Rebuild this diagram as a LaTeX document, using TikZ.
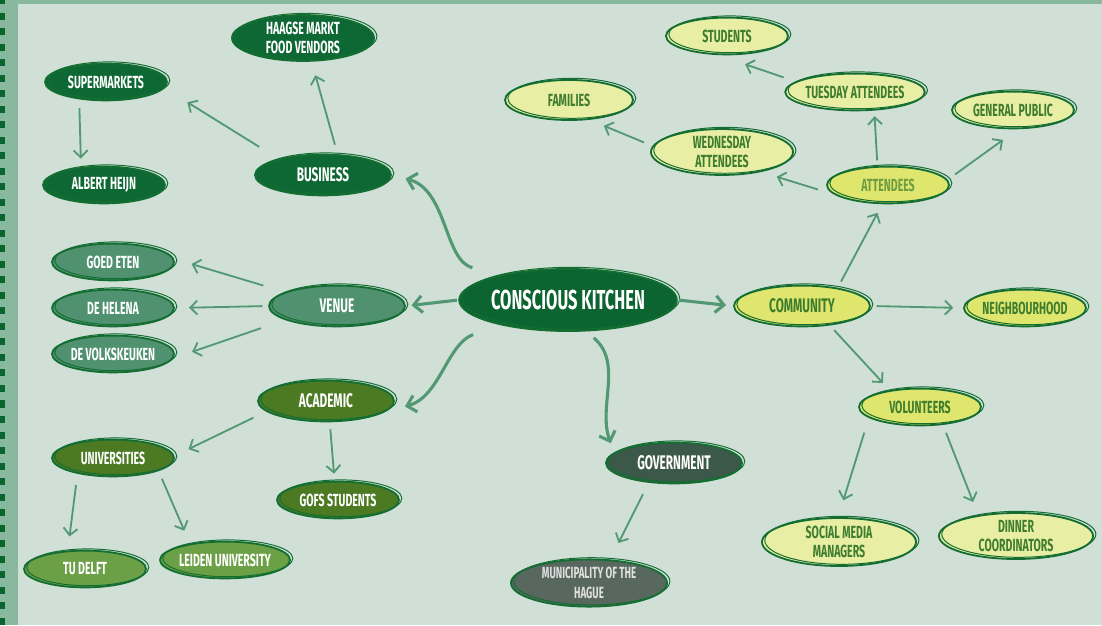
\documentclass[tikz,border=0pt]{standalone}
\usepackage{fontspec}
\usepackage{tikz}
\usetikzlibrary{shapes.geometric,arrows.meta}
\setmainfont{Fira Sans}[FakeStretch=0.6]
\newcommand{\leaffont}{\bfseries\fontsize{12.5}{14}\selectfont}
\newcommand{\branchfont}{\bfseries\fontsize{14}{16}\selectfont}
\newcommand{\rootfont}{\bfseries\fontsize{19.5}{21}\selectfont}

\definecolor{paper}{RGB}{208,224,215}
\definecolor{framegreen}{RGB}{136,184,158}
\definecolor{framedot}{RGB}{10,100,45}
\definecolor{ring}{RGB}{20,110,50}
\definecolor{linkgreen}{RGB}{82,152,115}
\definecolor{ckgreen}{RGB}{12,100,48}
\definecolor{bizgreen}{RGB}{14,104,52}
\definecolor{venuegreen}{RGB}{80,145,112}
\definecolor{acadgreen}{RGB}{75,122,35}
\definecolor{unilight}{RGB}{108,160,70}
\definecolor{govgrey}{RGB}{60,88,72}
\definecolor{munigrey}{RGB}{88,104,95}
\definecolor{commyellow}{RGB}{222,230,110}
\definecolor{paleyellow}{RGB}{233,238,165}
\definecolor{inkgreen}{RGB}{62,125,45}

\tikzset{
    bubble/.style={ellipse, draw=ring, line width=1.3pt, inner sep=0pt, align=center,
        text=white, font=\leaffont,
        postaction={draw=ring, line width=0.7pt, transform canvas={xshift=2pt,yshift=1.2pt}}},
    leaf/.style={bubble, minimum width=3.05cm, minimum height=0.92cm},
    branch/.style={bubble, minimum width=3.4cm, minimum height=1.02cm, font=\branchfont},
    pale/.style={text=inkgreen},
    link/.style={-{Straight Barb[length=5pt,width=10pt]}, draw=linkgreen, line width=1.3pt,
        shorten <=4pt, shorten >=4pt},
    mainlink/.style={link, -{Straight Barb[length=6pt,width=12pt]}, line width=2.2pt}
}

\begin{document}
\begin{tikzpicture}[x=0.025cm, y=0.025cm]
            \useasboundingbox (0,0) rectangle (1102,625);
            \fill[paper] (0,0) rectangle (1102,625);
            \fill[framegreen] (0,0) rectangle (17.5,625);
            \fill[framegreen] (0,621) rectangle (1102,625);
            \foreach \k in {0,...,40}
                \fill[framedot] (0,{627.5-15.5*\k}) rectangle (5,{620.5-15.5*\k});

            \node[bubble, fill=ckgreen, font=\rootfont, minimum width=5.3cm, minimum height=1.55cm] (CK) at (568,325) {CONSCIOUS KITCHEN};

            \node[branch, fill=bizgreen] (Business) at (323,450) {BUSINESS};
            \node[leaf, fill=bizgreen, minimum width=3.55cm, minimum height=1.08cm] (Business_Haagse) at (303,587) {HAAGSE MARKT\\FOOD VENDORS};
            \node[leaf, fill=bizgreen] (Business_Super) at (106,543) {SUPERMARKETS};
            \node[leaf, fill=bizgreen] (Super_AH) at (104,440) {ALBERT HEIJN};

            \node[branch, fill=venuegreen] (Venue) at (337,319) {VENUE};
            \node[leaf, fill=venuegreen] (Venue_Goed) at (113,363) {GOED ETEN};
            \node[leaf, fill=venuegreen] (Venue_Helena) at (113,317) {DE HELENA};
            \node[leaf, fill=venuegreen] (Venue_Volks) at (113,271) {DE VOLKSKEUKEN};

            \node[branch, fill=acadgreen] (Academic) at (326,224) {ACADEMIC};
            \node[leaf, fill=acadgreen] (Academic_Uni) at (113,167) {UNIVERSITIES};
            \node[leaf, fill=acadgreen] (Academic_GOFS) at (338,125) {GOFS STUDENTS};
            \node[leaf, fill=unilight] (Uni_TUD) at (85,56) {TU DELFT};
            \node[leaf, fill=unilight] (Uni_Leiden) at (225,65) {LEIDEN UNIVERSITY};

            \node[branch, fill=govgrey] (Gov) at (674,162) {GOVERNMENT};
            \node[leaf, fill=munigrey, text=black!12, font=\bfseries\fontsize{11.5}{14}\selectfont, minimum width=3.9cm, minimum height=1.18cm] (Gov_Muni) at (589,42) {MUNICIPALITY OF THE\\HAGUE};

            \node[branch, pale, fill=commyellow] (Comm) at (802,319) {COMMUNITY};
            \node[leaf, pale, fill=commyellow] (Comm_Neigh) at (1025,317) {NEIGHBOURHOOD};
            \node[leaf, pale, fill=commyellow, text=inkgreen!70!commyellow] (Comm_Att) at (888,440) {ATTENDEES};
            \node[leaf, pale, fill=commyellow] (Comm_Vol) at (920,218) {VOLUNTEERS};
            \node[leaf, pale, fill=paleyellow] (Att_Tue) at (855,533) {TUESDAY ATTENDEES};
            \node[leaf, pale, fill=paleyellow] (Att_Pub) at (1013,515) {GENERAL PUBLIC};
            \node[leaf, pale, fill=paleyellow, minimum width=3.55cm, minimum height=1.08cm] (Att_Wed) at (722,473) {WEDNESDAY\\ATTENDEES};
            \node[leaf, pale, fill=paleyellow] (Tue_Stud) at (727,589) {STUDENTS};
            \node[leaf, pale, fill=paleyellow, minimum width=3.2cm, minimum height=1cm] (Wed_Fam) at (569,525) {FAMILIES};
            \node[leaf, pale, fill=paleyellow, minimum width=3.85cm, minimum height=1.2cm] (Vol_Social) at (839,83) {SOCIAL MEDIA\\MANAGERS};
            \node[leaf, pale, fill=paleyellow, minimum width=3.85cm, minimum height=1.15cm] (Vol_Dinner) at (1016,89) {DINNER\\COORDINATORS};

            \draw[mainlink, shorten <=1pt] (CK.west) -- (Venue.east);
            \draw[mainlink, shorten <=1pt, shorten >=5pt] (CK.east) -- (Comm.west);
            \draw[mainlink, shorten <=20pt, shorten >=10pt] (CK.160) to[out=165,in=-15] (Business.east);
            \draw[mainlink, shorten <=20pt, shorten >=14pt] (CK.200) to[out=200,in=15] (Academic.-10);
            \draw[mainlink, shorten <=7pt, shorten >=7pt] (CK.-60) to[out=-40,in=110] (Gov.170);

            \draw[link, shorten <=7pt, shorten >=10pt] (Business.55) -- (Business_Haagse.-70);
            \draw[link, shorten <=16pt, shorten >=19pt] (Business.160) -- (Business_Super.-6);
            \draw[link, shorten <=6pt, shorten >=6pt] (Business_Super.213) -- (Super_AH.142);

            \draw[link, shorten <=16pt, shorten >=13pt] (Venue.165) -- (Venue_Goed.3);
            \draw[link, shorten <=4pt, shorten >=10pt] (Venue.west) -- (Venue_Helena.east);
            \draw[link, shorten <=18pt, shorten >=14pt] (Venue.195) -- (Venue_Volks.-4);

            \draw[link, shorten <=10pt, shorten >=11pt] (Academic.190) -- (Academic_Uni.2);
            \draw[link, shorten <=5pt, shorten >=5pt] (Academic.-80) -- (Academic_GOFS.100);
            \draw[link, shorten <=8pt, shorten >=10pt] (Academic_Uni.204) -- (Uni_TUD.133);
            \draw[link, shorten <=6pt, shorten >=10pt] (Academic_Uni.-16) -- (Uni_Leiden.155);

            \draw[link, shorten <=9pt, shorten >=13pt] (Gov.218) -- (Gov_Muni.48);

            \draw[link, shorten <=5pt, shorten >=7pt] (Comm.27) -- (Comm_Att.-107);
            \draw[link, shorten <=4pt, shorten >=7pt] (Comm.east) -- (Comm_Neigh.west);
            \draw[link, shorten <=4.5pt, shorten >=7pt] (Comm.-35) -- (Comm_Vol.151);
            \draw[link] (Comm_Att.119) -- (Att_Tue.-44);
            \draw[link, shorten <=6.5pt, shorten >=13pt] (Comm_Att.5) -- (Att_Pub.-76);
            \draw[link, shorten <=12pt, shorten >=11.5pt] (Comm_Att.190) -- (Att_Wed.-27);
            \draw[link, shorten <=9pt, shorten >=20pt] (Att_Tue.170) -- (Tue_Stud.-114);
            \draw[link, shorten <=6.5pt, shorten >=11pt] (Att_Wed.175) -- (Wed_Fam.-44);
            \draw[link, shorten <=11pt, shorten >=12.5pt] (Comm_Vol.192) -- (Vol_Social.92);
            \draw[link, shorten <=6pt, shorten >=10pt] (Comm_Vol.-38) -- (Vol_Dinner.151);
        \end{tikzpicture}
\end{document}
